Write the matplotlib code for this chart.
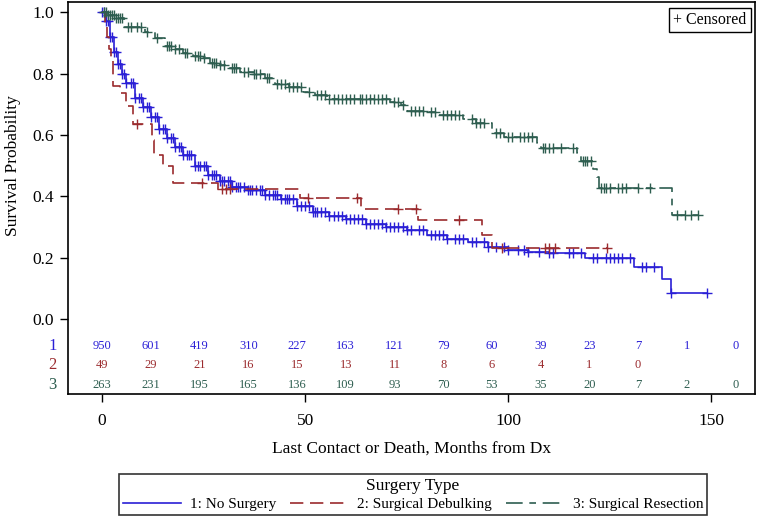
import numpy as np
import matplotlib
matplotlib.use("Agg")
from matplotlib import pyplot as plt
from matplotlib.lines import Line2D

plt.rcParams['font.family'] = ['Liberation Serif', 'DejaVu Serif']

# --- Kaplan-Meier steps (time in months, survival after the step) ---
no_surg_t = [0, 1, 2, 3, 4, 5, 6, 8, 10, 12, 14, 16, 18, 20, 23, 26, 29, 32, 36, 40, 44,
             48, 52, 56, 60, 65, 70, 75, 80, 85, 90, 95, 100, 105, 110, 119, 131, 138, 140]
no_surg_s = [1.0, 0.97, 0.92, 0.87, 0.83, 0.80, 0.77, 0.72, 0.69, 0.66, 0.62, 0.59, 0.56,
             0.535, 0.50, 0.47, 0.45, 0.43, 0.42, 0.405, 0.39, 0.37, 0.35, 0.335, 0.325,
             0.31, 0.30, 0.29, 0.275, 0.26, 0.25, 0.235, 0.225, 0.22, 0.215, 0.20, 0.17,
             0.13, 0.085]
no_surg_end = 149
no_surg_cens = [0, 0.5, 1, 1.5, 2, 2.5, 3, 3.5, 4, 4.5, 5, 5.5, 6, 7, 7.5, 8, 9, 9.5, 10, 11,
                11.5, 12, 13, 13.5, 14, 15, 15.5, 16, 17, 17.5, 18, 19, 19.5, 20, 21, 21.5,
                22, 23, 23.5, 24, 25, 25.5, 26, 27, 27.5, 28, 29, 29.5, 30, 31, 31.5, 32, 33,
                33.5, 34, 35, 36, 36.5, 37, 38, 39, 39.5, 40, 41, 42, 42.5, 43, 44, 45, 45.5,
                46, 47, 48, 49, 50, 51, 52, 52.5, 53, 54, 55, 56, 57, 58, 59, 60, 61, 62, 63,
                64, 65, 66, 67, 68, 69, 70, 71, 72, 73, 74, 75, 76, 78, 79, 81, 82, 83, 84,
                85, 87, 88, 89, 91, 92, 94, 95, 97, 99, 100, 102.5, 104, 105, 107.5, 110, 111,
                115, 116, 118, 121, 122, 124, 125, 126, 127, 128, 130, 133, 134, 136, 140, 149]

debulk_t = [0, 0.8, 1.3, 1.8, 2.3, 2.6, 4.4, 5.8, 7.5, 12.2, 12.8, 15.0, 17.5, 28.5, 48.8,
            63.8, 77.8, 93.6, 96]
debulk_s = [1.0, 0.96, 0.92, 0.88, 0.84, 0.76, 0.735, 0.695, 0.635, 0.585, 0.535, 0.50,
            0.445, 0.423, 0.394, 0.36, 0.322, 0.273, 0.233]
debulk_end = 124.4
debulk_cens = [8.6, 24.6, 29.5, 30.5, 31.5, 50.7, 62.8, 73, 77.3, 88, 98.5, 109, 110,
               111.5, 124.4]

resect_t = [0, 1.5, 3.5, 5.5, 10.5, 13, 15.5, 17.5, 20, 22.5, 24.5, 26.5, 28.5, 31, 34,
            37.5, 40, 42.5, 46, 49.5, 52.5, 55.5, 71, 73.5, 75, 80, 82.5, 89, 92, 96, 99,
            107, 108, 117, 118, 121, 122, 122.5, 140.4]
resect_s = [1.0, 0.99, 0.98, 0.952, 0.935, 0.915, 0.89, 0.88, 0.866, 0.858, 0.85, 0.835,
            0.827, 0.818, 0.805, 0.80, 0.785, 0.765, 0.756, 0.74, 0.73, 0.717, 0.707,
            0.697, 0.678, 0.674, 0.664, 0.652, 0.638, 0.605, 0.592, 0.573, 0.556, 0.54,
            0.515, 0.49, 0.463, 0.426, 0.338]
resect_end = 146.8
resect_cens = [0.5, 1, 1.5, 2, 2.5, 3, 3.5, 4, 4.5, 5, 6.5, 7, 8.5, 9.5, 11, 13.5, 16, 16.5,
               17, 18, 19, 20.5, 21, 23, 23.5, 24, 25, 27, 27.5, 28, 29, 30, 32, 32.5, 33,
               35, 36, 37.5, 38, 39, 40.5, 41, 43, 44, 45, 46, 47, 48, 49, 51, 53, 54, 55,
               56, 57, 58, 59, 60, 61, 62, 63.5, 64, 65, 66, 67, 68, 69, 70, 72, 73, 74, 76,
               77, 78, 79, 81, 82, 84, 85, 86, 87, 88, 91, 92, 93, 94, 97, 98, 100, 101, 103,
               104, 105, 106, 108.5, 109, 110, 111, 113, 116, 118.5, 119, 119.5, 120.5, 123,
               123.5, 124, 125, 127, 128, 129, 132, 135, 141.6, 143.5, 145, 146.8]

# --- number at risk table ---
risk_times = [0, 12, 24, 36, 48, 60, 72, 84, 96, 108, 120, 132, 144, 156]
risk_no_surg = [950, 601, 419, 310, 227, 163, 121, 79, 60, 39, 23, 7, 1, 0]
risk_debulk = [49, 29, 21, 16, 15, 13, 11, 8, 6, 4, 1, 0]
risk_resect = [263, 231, 195, 165, 136, 109, 93, 70, 53, 35, 20, 7, 2, 0]

labels = ['1: No Surgery', '2: Surgical Debulking', '3: Surgical Resection']
colors = ['#2A1FD6', '#9B2B2E', '#2E5E50']
dashes = [(), (8, 4), (10, 4, 4, 4)]

fig = plt.figure(figsize=(7.58, 5.18), dpi=100)
ax = fig.add_axes([0.0897, 0.2394, 0.9063, 0.7567])

curves = [(no_surg_t, no_surg_s, no_surg_end, no_surg_cens),
          (debulk_t, debulk_s, debulk_end, debulk_cens),
          (resect_t, resect_s, resect_end, resect_cens)]

handles = []
for (t, s, end, cens), col, dsh, lab in zip(curves, colors, dashes, labels):
    tt = np.append(t, end)
    ss = np.append(s, s[-1])
    ln, = ax.step(tt, ss, where='post', color=col, lw=1.2, label=lab)
    if dsh:
        ln.set_dashes(dsh)
    idx = np.searchsorted(t, cens, side='right') - 1
    ax.plot(cens, np.asarray(s)[idx], ls='none', marker='+', ms=7, mew=1.0, color=col)
    handles.append(Line2D([0], [0], color=col, lw=1.2,
                          dashes=dsh if dsh else (None, None)))

# at-risk rows inside the plot area
row_y = [-0.088, -0.150, -0.215]
for rows, col, yy, num in zip([risk_no_surg, risk_debulk, risk_resect], colors, row_y, ['1', '2', '3']):
    for tm, n in zip(risk_times, rows):
        ax.text(tm, yy, str(n), color=col, fontsize=9, ha='center', va='center')
    ax.text(-0.023, yy, num, color=col, fontsize=12, ha='center', va='center',
            transform=ax.get_yaxis_transform())

ax.set_xlim(-8.4, 160.8)
ax.set_ylim(-0.244, 1.033)
ax.set_yticks([0.0, 0.2, 0.4, 0.6, 0.8, 1.0])
ax.set_yticklabels(['0.0', '0.2', '0.4', '0.6', '0.8', '1.0'])
ax.set_xticks([0, 50, 100, 150])
ax.tick_params(axis='both', direction='out', length=6, width=1, labelsize=12.5, pad=4)
ax.tick_params(axis='x', pad=8)
for sp in ax.spines.values():
    sp.set_linewidth(1.2)

ax.set_ylabel('Survival Probability', fontsize=12.5)
ax.yaxis.set_label_coords(-0.068, 0.583)
ax.set_xlabel('Last Contact or Death, Months from Dx', fontsize=12.5, labelpad=8)

# censored key box
ax.text(0.988, 0.975, '+ Censored', transform=ax.transAxes, ha='right', va='top', fontsize=11.5,
        bbox=dict(boxstyle='square,pad=0.25', fc='white', ec='black', lw=1))

leg = fig.legend(handles, labels, title='Surgery Type', ncol=3, loc='center',
                 bbox_to_anchor=(0.545, 0.045), fontsize=11, title_fontsize=12.5,
                 frameon=True, fancybox=False, edgecolor='black', handlelength=3.8,
                 columnspacing=0.9, handletextpad=0.6, borderpad=0.25, labelspacing=0.2)
leg.get_frame().set_linewidth(1.2)

fig.savefig('out.png', dpi=100)
